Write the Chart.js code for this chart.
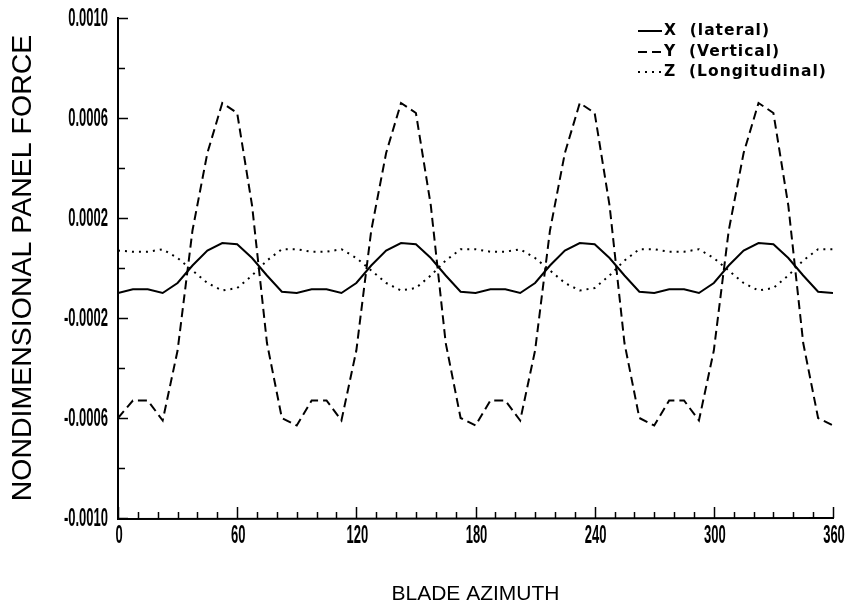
<!DOCTYPE html>
<html>
<head>
<meta charset="utf-8">
<script src="https://cdn.jsdelivr.net/npm/chart.js@4.4.1/dist/chart.umd.min.js"></script>
<style>
  html, body { margin: 0; padding: 0; background: #fff; }
  #wrap { width: 849px; height: 608px; position: relative; }
</style>
</head>
<body>
<div id="wrap"><canvas id="c" width="849" height="608"></canvas></div>
<script>
// Blade azimuth (degrees), sampled every 7.5 degrees
const azimuth = [0, 7.5, 15, 22.5, 30, 37.5, 45, 52.5, 60, 67.5, 75, 82.5,
  90, 97.5, 105, 112.5, 120, 127.5, 135, 142.5, 150, 157.5, 165, 172.5,
  180, 187.5, 195, 202.5, 210, 217.5, 225, 232.5, 240, 247.5, 255, 262.5,
  270, 277.5, 285, 292.5, 300, 307.5, 315, 322.5, 330, 337.5, 345, 352.5, 360];

const xLateral = [-0.00010, -0.000085, -0.000085, -0.00010, -0.00006, 0.00001, 0.00007, 0.00010, 0.000095, 0.00004, -0.00003, -0.000095,
  -0.00010, -0.000085, -0.000085, -0.00010, -0.00006, 0.00001, 0.00007, 0.00010, 0.000095, 0.00004, -0.00003, -0.000095,
  -0.00010, -0.000085, -0.000085, -0.00010, -0.00006, 0.00001, 0.00007, 0.00010, 0.000095, 0.00004, -0.00003, -0.000095,
  -0.00010, -0.000085, -0.000085, -0.00010, -0.00006, 0.00001, 0.00007, 0.00010, 0.000095, 0.00004, -0.00003, -0.000095,
  -0.00010];

const yVertical = [-0.00060, -0.00053, -0.00053, -0.00061, -0.00033, 0.00015, 0.00046, 0.00066, 0.00062, 0.00025, -0.00030, -0.00060,
  -0.00063, -0.00053, -0.00053, -0.00061, -0.00033, 0.00015, 0.00046, 0.00066, 0.00062, 0.00025, -0.00030, -0.00060,
  -0.00063, -0.00053, -0.00053, -0.00061, -0.00033, 0.00015, 0.00046, 0.00066, 0.00062, 0.00025, -0.00030, -0.00060,
  -0.00063, -0.00053, -0.00053, -0.00061, -0.00033, 0.00015, 0.00046, 0.00066, 0.00062, 0.00025, -0.00030, -0.00060,
  -0.00063];

const zLongitudinal = [0.00007, 0.000065, 0.000065, 0.000075, 0.00004, -0.00001, -0.00006, -0.00009, -0.00008, -0.00003, 0.00003, 0.000075,
  0.000075, 0.000065, 0.000065, 0.000075, 0.00004, -0.00001, -0.00006, -0.00009, -0.00008, -0.00003, 0.00003, 0.000075,
  0.000075, 0.000065, 0.000065, 0.000075, 0.00004, -0.00001, -0.00006, -0.00009, -0.00008, -0.00003, 0.00003, 0.000075,
  0.000075, 0.000065, 0.000065, 0.000075, 0.00004, -0.00001, -0.00006, -0.00009, -0.00008, -0.00003, 0.00003, 0.000075,
  0.000075];

const seriesLabels = ['X  (lateral)', 'Y  (Vertical)', 'Z  (Longitudinal)'];
const yTickLabelValues = [0.0010, 0.0006, 0.0002, -0.0002, -0.0006, -0.0010];
const xTickLabelValues = [0, 60, 120, 180, 240, 300, 360];
const xMinorStep = 10;
const yMinorStep = 0.0002;
const xTitle = 'BLADE AZIMUTH';
const yTitle = 'NONDIMENSIONAL PANEL FORCE';

const toPoints = (vals) => azimuth.map((a, i) => ({ x: a, y: vals[i] }));

const fmtY = (v) => (Math.abs(v) < 1e-12 ? 0 : v).toFixed(4);

// Draws axis lines, inward tick marks and condensed tick labels using the chart's scales, and the legend
const axesPlugin = {
  id: 'axesPlugin',
  afterDatasetsDraw(chart) {
    const ctx = chart.ctx;
    const xs = chart.scales.x, ys = chart.scales.y;
    const ca = chart.chartArea;
    ctx.save();
    ctx.strokeStyle = '#000';
    ctx.lineWidth = 2;
    ctx.setLineDash([]);
    // axis lines
    ctx.beginPath();
    ctx.moveTo(ca.left, ca.top - 1);
    ctx.lineTo(ca.left, ca.bottom + 1);
    ctx.lineTo(ca.right + 1, ca.bottom);
    ctx.stroke();
    // x ticks (inward)
    ctx.lineWidth = 1.5;
    for (let v = xs.min; v <= xs.max + 1e-9; v += xMinorStep) {
      const px = Math.round(xs.getPixelForValue(v)) + 0.5;
      const major = xTickLabelValues.some(t => Math.abs(t - v) < 1e-6);
      ctx.beginPath();
      ctx.moveTo(px, ca.bottom);
      ctx.lineTo(px, ca.bottom - (major ? 11 : 6));
      ctx.stroke();
    }
    // y ticks (inward)
    for (let k = 0; k <= 10; k++) {
      const v = ys.min + k * yMinorStep;
      const py = Math.round(ys.getPixelForValue(v)) + 0.5;
      const major = yTickLabelValues.some(t => Math.abs(t - v) < 1e-9);
      ctx.beginPath();
      ctx.moveTo(ca.left, py);
      ctx.lineTo(ca.left + (major ? 10 : 7), py);
      ctx.stroke();
    }
    // condensed tick labels
    const sx = 0.5;
    ctx.fillStyle = '#000';
    ctx.font = "bold 26px 'Liberation Sans', Arial, sans-serif";
    ctx.textBaseline = 'middle';
    yTickLabelValues.forEach(v => {
      const py = ys.getPixelForValue(v);
      ctx.save();
      ctx.translate(ca.left - 10, py + 1);
      ctx.scale(sx, 1);
      ctx.textAlign = 'right';
      ctx.fillText(fmtY(v), 0, 0);
      ctx.restore();
    });
    xTickLabelValues.forEach(v => {
      const px = xs.getPixelForValue(v);
      ctx.save();
      ctx.translate(px + 1, ca.bottom + 18);
      ctx.scale(sx, 1);
      ctx.textAlign = 'center';
      ctx.fillText(String(v), 0, 0);
      ctx.restore();
    });
    // legend
    const rows = [31, 52, 72];
    ctx.font = "bold 15.5px 'DejaVu Sans', sans-serif";
    try { ctx.letterSpacing = '1px'; } catch (e) {}
    ctx.textAlign = 'left';
    chart.data.datasets.forEach((ds, i) => {
      const y = rows[i];
      ctx.save();
      ctx.lineWidth = ds.borderWidth;
      ctx.setLineDash(ds.borderDash || []);
      ctx.beginPath();
      ctx.moveTo(638, y);
      ctx.lineTo(662, y);
      ctx.stroke();
      ctx.restore();
      ctx.fillText(ds.label, 664, y);
    });
    ctx.restore();
  }
};

new Chart(document.getElementById('c'), {
  type: 'line',
  data: {
    datasets: [
      { label: seriesLabels[0], data: toPoints(xLateral), borderColor: '#000', borderWidth: 2, borderDash: [], pointRadius: 0, tension: 0, fill: false },
      { label: seriesLabels[1], data: toPoints(yVertical), borderColor: '#000', borderWidth: 2, borderDash: [9, 5], pointRadius: 0, tension: 0, fill: false },
      { label: seriesLabels[2], data: toPoints(zLongitudinal), borderColor: '#000', borderWidth: 2, borderDash: [2, 5], pointRadius: 0, tension: 0, fill: false }
    ]
  },
  options: {
    responsive: false,
    animation: false,
    events: [],
    layout: { padding: { top: 18, right: 16, left: 0, bottom: 0 } },
    plugins: { legend: { display: false }, tooltip: { enabled: false } },
    scales: {
      x: {
        type: 'linear',
        min: 0, max: 360,
        grid: { display: false, drawTicks: false },
        border: { display: false },
        afterBuildTicks: (s) => { s.ticks = xTickLabelValues.map(v => ({ value: v })); },
        afterFit: (s) => { s.height = 90; },
        ticks: { display: false },
        title: {
          display: true, text: xTitle, color: '#000', align: 'center',
          font: { family: "'Liberation Sans', Arial, sans-serif", size: 21 },
          padding: { top: 0, bottom: 1 }
        }
      },
      y: {
        type: 'linear',
        min: -0.001, max: 0.001,
        grid: { display: false, drawTicks: false },
        border: { display: false },
        afterBuildTicks: (s) => { s.ticks = yTickLabelValues.map(v => ({ value: v })); },
        afterFit: (s) => { s.width = 118; },
        ticks: { display: false },
        title: {
          display: true, text: yTitle, color: '#000',
          font: { family: "'Liberation Sans', Arial, sans-serif", size: 28.5 },
          padding: { top: 6, bottom: 0 }
        }
      }
    }
  },
  plugins: [axesPlugin]
});
</script>
</body>
</html>
